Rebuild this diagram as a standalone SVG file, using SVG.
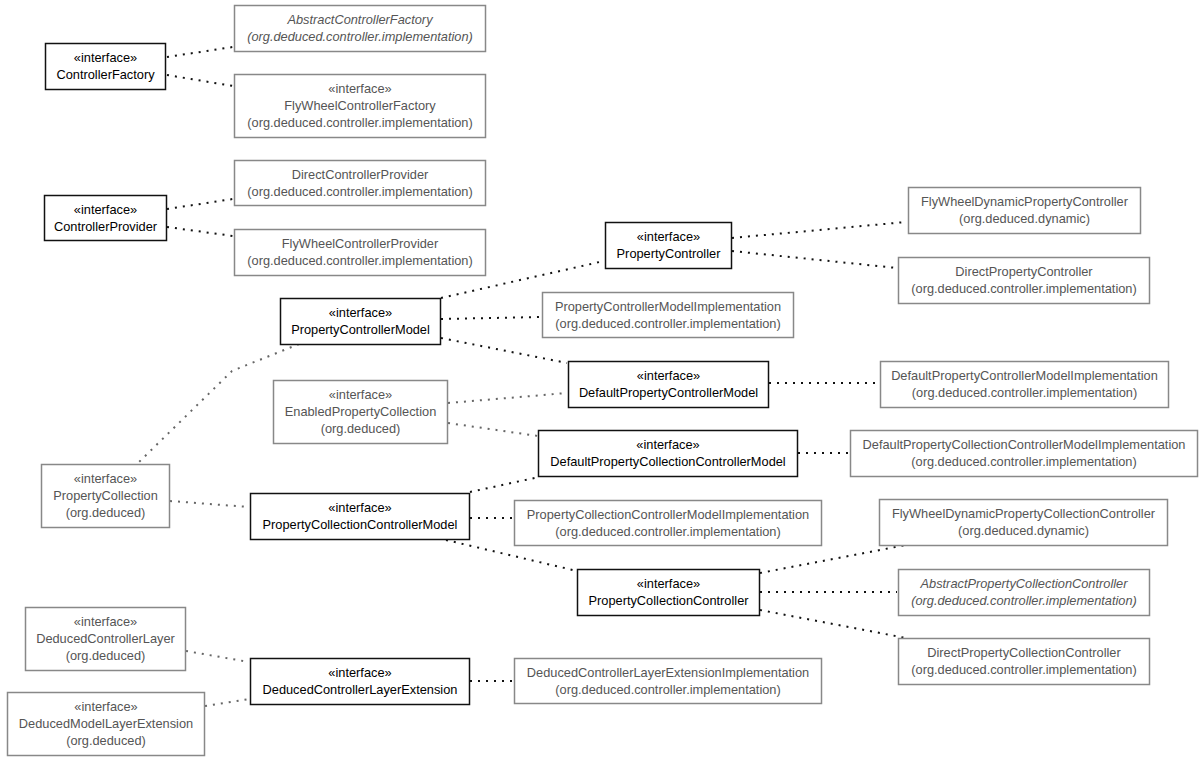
<svg xmlns="http://www.w3.org/2000/svg" width="1203" height="760" viewBox="0 0 1203 760">
<style>
rect{fill:#fff;stroke-width:1.5}
.m rect{stroke:#111}
.e rect{stroke:#888}
text{font-family:"Liberation Sans",Arial,sans-serif;font-size:12.8px;text-anchor:middle}
.m text{fill:#000}
.e text{fill:#555}
.i text{font-style:italic}
#connectors path{fill:none;stroke-width:2;stroke-dasharray:2 6}
.k{stroke:#111}
.g{stroke:#666}
</style>
<rect x="0" y="0" width="1203" height="760" style="fill:#fff;stroke:none"/>
<g id="connectors">
<path class="k" d="M167,57 L233,47"/>
<path class="k" d="M167,75 L233,86"/>
<path class="k" d="M167,209 L233,199"/>
<path class="k" d="M167,227 L233,236"/>
<path class="k" d="M441,298 L604,261"/>
<path class="k" d="M441,319 L541,317"/>
<path class="k" d="M441,338 L567,363"/>
<path class="k" d="M732,238 L906,222"/>
<path class="k" d="M732,251 L897,268"/>
<path class="k" d="M769,383 L879,383"/>
<path class="g" d="M448,403 L567,393"/>
<path class="g" d="M448,423 L538,436"/>
<path class="k" d="M798,453 L849,453"/>
<path class="g" d="M299,344 L232,371 L138,463"/>
<path class="g" d="M170,501 L249,507"/>
<path class="k" d="M470,492 L539,477"/>
<path class="k" d="M470,518 L513,518"/>
<path class="k" d="M446,540 L577,571"/>
<path class="k" d="M760,573 L906,545"/>
<path class="k" d="M760,592 L897,592"/>
<path class="k" d="M760,610 L906,638"/>
<path class="g" d="M186,651 L249,662"/>
<path class="g" d="M205,706 L249,699"/>
<path class="k" d="M470,681 L513,681"/>
</g>
<g id="ControllerFactory" class="m"><rect x="45.5" y="43.5" width="120" height="46"/><text x="105.5" y="62">«interface»</text><text x="105.5" y="79">ControllerFactory</text></g>
<g id="AbstractControllerFactory" class="e i"><rect x="234.5" y="5.5" width="251" height="46"/><text x="360" y="24">AbstractControllerFactory</text><text x="360" y="41">(org.deduced.controller.implementation)</text></g>
<g id="FlyWheelControllerFactory" class="e"><rect x="234.5" y="74.5" width="251" height="63"/><text x="360" y="93">«interface»</text><text x="360" y="110">FlyWheelControllerFactory</text><text x="360" y="127">(org.deduced.controller.implementation)</text></g>
<g id="DirectControllerProvider" class="e"><rect x="234.5" y="160.5" width="251" height="45"/><text x="360" y="179">DirectControllerProvider</text><text x="360" y="196">(org.deduced.controller.implementation)</text></g>
<g id="FlyWheelControllerProvider" class="e"><rect x="234.5" y="229.5" width="251" height="46"/><text x="360" y="248">FlyWheelControllerProvider</text><text x="360" y="265">(org.deduced.controller.implementation)</text></g>
<g id="ControllerProvider" class="m"><rect x="44.5" y="195.5" width="122" height="45"/><text x="105.5" y="214">«interface»</text><text x="105.5" y="231">ControllerProvider</text></g>
<g id="PropertyController" class="m"><rect x="605.5" y="222.5" width="126" height="46"/><text x="668.5" y="241">«interface»</text><text x="668.5" y="258">PropertyController</text></g>
<g id="FlyWheelDynamicPropertyController" class="e"><rect x="908.5" y="187.5" width="232" height="46"/><text x="1024.5" y="206">FlyWheelDynamicPropertyController</text><text x="1024.5" y="223">(org.deduced.dynamic)</text></g>
<g id="DirectPropertyController" class="e"><rect x="898.5" y="257.5" width="251" height="46"/><text x="1024" y="276">DirectPropertyController</text><text x="1024" y="293">(org.deduced.controller.implementation)</text></g>
<g id="PropertyControllerModel" class="m"><rect x="280.5" y="298.5" width="160" height="46"/><text x="360.5" y="317">«interface»</text><text x="360.5" y="334">PropertyControllerModel</text></g>
<g id="PropertyControllerModelImplementation" class="e"><rect x="542.5" y="292.5" width="251" height="45"/><text x="668" y="311">PropertyControllerModelImplementation</text><text x="668" y="328">(org.deduced.controller.implementation)</text></g>
<g id="DefaultPropertyControllerModel" class="m"><rect x="568.5" y="361.5" width="200" height="46"/><text x="668.5" y="380">«interface»</text><text x="668.5" y="397">DefaultPropertyControllerModel</text></g>
<g id="DefaultPropertyControllerModelImplementation" class="e"><rect x="880.5" y="361.5" width="288" height="46"/><text x="1024.5" y="380">DefaultPropertyControllerModelImplementation</text><text x="1024.5" y="397">(org.deduced.controller.implementation)</text></g>
<g id="EnabledPropertyCollection" class="e"><rect x="273.5" y="380.5" width="174" height="63"/><text x="360.5" y="399">«interface»</text><text x="360.5" y="416">EnabledPropertyCollection</text><text x="360.5" y="433">(org.deduced)</text></g>
<g id="DefaultPropertyCollectionControllerModel" class="m"><rect x="538.5" y="430.5" width="259" height="46"/><text x="668" y="449">«interface»</text><text x="668" y="466">DefaultPropertyCollectionControllerModel</text></g>
<g id="DefaultPropertyCollectionControllerModelImplementation" class="e"><rect x="850.5" y="430.5" width="347" height="46"/><text x="1024" y="449">DefaultPropertyCollectionControllerModelImplementation</text><text x="1024" y="466">(org.deduced.controller.implementation)</text></g>
<g id="PropertyCollection" class="e"><rect x="41.5" y="464.5" width="128" height="63"/><text x="105.5" y="483">«interface»</text><text x="105.5" y="500">PropertyCollection</text><text x="105.5" y="517">(org.deduced)</text></g>
<g id="PropertyCollectionControllerModel" class="m"><rect x="250.5" y="493.5" width="219" height="46"/><text x="360" y="512">«interface»</text><text x="360" y="529">PropertyCollectionControllerModel</text></g>
<g id="PropertyCollectionControllerModelImplementation" class="e"><rect x="514.5" y="500.5" width="307" height="45"/><text x="668" y="519">PropertyCollectionControllerModelImplementation</text><text x="668" y="536">(org.deduced.controller.implementation)</text></g>
<g id="FlyWheelDynamicPropertyCollectionController" class="e"><rect x="879.5" y="499.5" width="288" height="46"/><text x="1023.5" y="518">FlyWheelDynamicPropertyCollectionController</text><text x="1023.5" y="535">(org.deduced.dynamic)</text></g>
<g id="PropertyCollectionController" class="m"><rect x="577.5" y="569.5" width="182" height="46"/><text x="668.5" y="588">«interface»</text><text x="668.5" y="605">PropertyCollectionController</text></g>
<g id="AbstractPropertyCollectionController" class="e i"><rect x="898.5" y="569.5" width="251" height="46"/><text x="1024" y="588">AbstractPropertyCollectionController</text><text x="1024" y="605">(org.deduced.controller.implementation)</text></g>
<g id="DirectPropertyCollectionController" class="e"><rect x="898.5" y="638.5" width="251" height="46"/><text x="1024" y="657">DirectPropertyCollectionController</text><text x="1024" y="674">(org.deduced.controller.implementation)</text></g>
<g id="DeducedControllerLayer" class="e"><rect x="25.5" y="607.5" width="160" height="63"/><text x="105.5" y="626">«interface»</text><text x="105.5" y="643">DeducedControllerLayer</text><text x="105.5" y="660">(org.deduced)</text></g>
<g id="DeducedControllerLayerExtension" class="m"><rect x="250.5" y="658.5" width="219" height="46"/><text x="360" y="677">«interface»</text><text x="360" y="694">DeducedControllerLayerExtension</text></g>
<g id="DeducedControllerLayerExtensionImplementation" class="e"><rect x="514.5" y="658.5" width="307" height="45"/><text x="668" y="677">DeducedControllerLayerExtensionImplementation</text><text x="668" y="694">(org.deduced.controller.implementation)</text></g>
<g id="DeducedModelLayerExtension" class="e"><rect x="7.5" y="692.5" width="197" height="63"/><text x="106" y="711">«interface»</text><text x="106" y="728">DeducedModelLayerExtension</text><text x="106" y="745">(org.deduced)</text></g>
</svg>
